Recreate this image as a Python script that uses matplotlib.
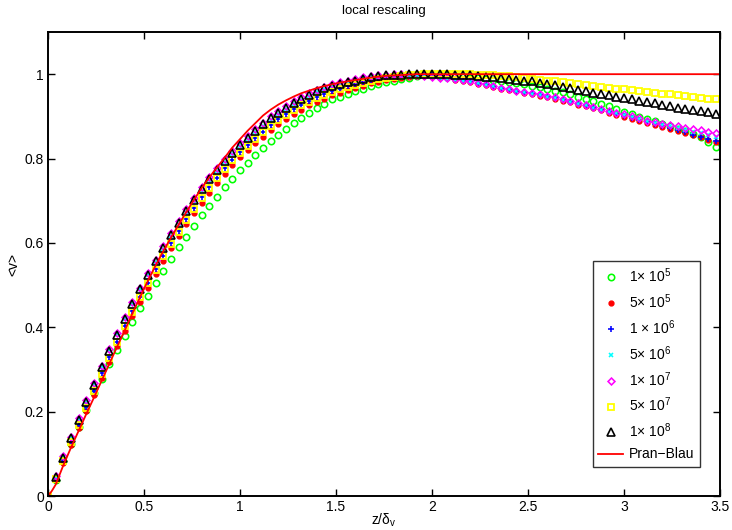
import matplotlib
matplotlib.use("Agg")
import matplotlib.pyplot as plt
import numpy as np

plt.rcParams['font.family'] = ['Liberation Sans', 'DejaVu Sans']
plt.rcParams['mathtext.fontset'] = 'custom'
plt.rcParams['mathtext.rm'] = 'Liberation Sans'
plt.rcParams['mathtext.it'] = 'Liberation Sans:italic'
plt.rcParams['mathtext.bf'] = 'Liberation Sans:bold'

# sample positions z/delta_v
z = [0.00, 0.04, 0.08, 0.12, 0.16, 0.20, 0.24, 0.28, 0.32, 0.36, 0.40, 0.44, 0.48, 0.52, 0.56,
     0.60, 0.64, 0.68, 0.72, 0.76, 0.80, 0.84, 0.88, 0.92, 0.96, 1.00, 1.04, 1.08, 1.12, 1.16,
     1.20, 1.24, 1.28, 1.32, 1.36, 1.40, 1.44, 1.48, 1.52, 1.56, 1.60, 1.64, 1.68, 1.72, 1.76,
     1.80, 1.84, 1.88, 1.92, 1.96, 2.00, 2.04, 2.08, 2.12, 2.16, 2.20, 2.24, 2.28, 2.32, 2.36,
     2.40, 2.44, 2.48, 2.52, 2.56, 2.60, 2.64, 2.68, 2.72, 2.76, 2.80, 2.84, 2.88, 2.92, 2.96,
     3.00, 3.04, 3.08, 3.12, 3.16, 3.20, 3.24, 3.28, 3.32, 3.36, 3.40, 3.44, 3.48]

v_1e5 = [0.000, 0.038, 0.082, 0.123, 0.163, 0.204, 0.243, 0.278, 0.312, 0.346, 0.380, 0.413, 0.445, 0.475, 0.506,
         0.534, 0.562, 0.590, 0.615, 0.641, 0.665, 0.688, 0.710, 0.732, 0.752, 0.772, 0.790, 0.808, 0.825, 0.841,
         0.856, 0.870, 0.884, 0.897, 0.908, 0.919, 0.930, 0.940, 0.947, 0.954, 0.960, 0.966, 0.971, 0.976, 0.981,
         0.985, 0.989, 0.992, 0.995, 0.997, 0.998, 0.998, 0.997, 0.996, 0.994, 0.992, 0.990, 0.988, 0.986, 0.984,
         0.982, 0.979, 0.976, 0.973, 0.969, 0.965, 0.961, 0.957, 0.952, 0.947, 0.941, 0.936, 0.930, 0.924, 0.918,
         0.911, 0.905, 0.899, 0.894, 0.888, 0.883, 0.877, 0.871, 0.865, 0.858, 0.850, 0.840, 0.828]

v_5e5 = [0.000, 0.037, 0.079, 0.121, 0.161, 0.201, 0.240, 0.280, 0.318, 0.355, 0.392, 0.427, 0.461, 0.494, 0.526,
         0.557, 0.587, 0.616, 0.644, 0.670, 0.695, 0.718, 0.741, 0.763, 0.784, 0.803, 0.820, 0.837, 0.852, 0.867,
         0.881, 0.894, 0.905, 0.916, 0.926, 0.935, 0.942, 0.950, 0.956, 0.962, 0.968, 0.973, 0.978, 0.982, 0.986,
         0.989, 0.992, 0.994, 0.995, 0.996, 0.996, 0.994, 0.991, 0.987, 0.984, 0.981, 0.977, 0.974, 0.970, 0.966,
         0.963, 0.959, 0.956, 0.953, 0.949, 0.945, 0.941, 0.937, 0.933, 0.928, 0.924, 0.919, 0.914, 0.909, 0.904,
         0.899, 0.894, 0.889, 0.884, 0.879, 0.875, 0.870, 0.865, 0.860, 0.855, 0.850, 0.845, 0.840]

v_1e6 = [0.000, 0.041, 0.084, 0.128, 0.169, 0.210, 0.250, 0.291, 0.329, 0.366, 0.403, 0.438, 0.472, 0.505, 0.537,
         0.569, 0.599, 0.628, 0.656, 0.683, 0.709, 0.732, 0.755, 0.777, 0.797, 0.815, 0.832, 0.849, 0.864, 0.879,
         0.893, 0.905, 0.917, 0.928, 0.937, 0.945, 0.953, 0.960, 0.966, 0.972, 0.977, 0.982, 0.986, 0.990, 0.993,
         0.996, 0.998, 0.999, 0.999, 0.998, 0.997, 0.994, 0.991, 0.989, 0.986, 0.983, 0.979, 0.976, 0.972, 0.968,
         0.965, 0.961, 0.958, 0.955, 0.951, 0.947, 0.943, 0.939, 0.935, 0.930, 0.926, 0.921, 0.916, 0.911, 0.906,
         0.901, 0.896, 0.891, 0.886, 0.881, 0.877, 0.872, 0.867, 0.862, 0.857, 0.852, 0.847, 0.842]

v_5e6 = [0.000, 0.046, 0.092, 0.138, 0.182, 0.224, 0.265, 0.306, 0.345, 0.383, 0.420, 0.456, 0.490, 0.523, 0.555,
         0.586, 0.616, 0.645, 0.673, 0.699, 0.724, 0.748, 0.770, 0.791, 0.811, 0.829, 0.846, 0.862, 0.878, 0.892,
         0.906, 0.918, 0.929, 0.939, 0.948, 0.957, 0.964, 0.971, 0.976, 0.981, 0.986, 0.990, 0.993, 0.996, 0.998,
         0.999, 0.999, 0.998, 0.997, 0.995, 0.993, 0.991, 0.989, 0.987, 0.984, 0.981, 0.978, 0.974, 0.971, 0.967,
         0.964, 0.960, 0.957, 0.954, 0.950, 0.946, 0.943, 0.939, 0.935, 0.930, 0.926, 0.921, 0.916, 0.911, 0.907,
         0.903, 0.898, 0.893, 0.888, 0.884, 0.880, 0.876, 0.872, 0.868, 0.864, 0.860, 0.856, 0.851]

v_1e7 = [0.000, 0.048, 0.094, 0.140, 0.184, 0.227, 0.268, 0.309, 0.348, 0.386, 0.424, 0.460, 0.494, 0.528, 0.560,
         0.592, 0.623, 0.652, 0.680, 0.706, 0.732, 0.756, 0.778, 0.799, 0.818, 0.836, 0.853, 0.870, 0.885, 0.900,
         0.913, 0.925, 0.936, 0.946, 0.955, 0.963, 0.970, 0.976, 0.981, 0.985, 0.989, 0.993, 0.996, 0.998, 0.999,
         1.000, 1.000, 0.999, 0.998, 0.996, 0.994, 0.992, 0.990, 0.988, 0.986, 0.983, 0.979, 0.976, 0.972, 0.968,
         0.965, 0.961, 0.958, 0.955, 0.952, 0.948, 0.945, 0.941, 0.937, 0.932, 0.928, 0.923, 0.918, 0.913, 0.909,
         0.905, 0.900, 0.895, 0.890, 0.886, 0.882, 0.879, 0.876, 0.873, 0.870, 0.867, 0.864, 0.860]

v_5e7 = [0.000, 0.040, 0.083, 0.127, 0.168, 0.209, 0.249, 0.290, 0.328, 0.365, 0.402, 0.437, 0.471, 0.504, 0.536,
         0.568, 0.598, 0.627, 0.655, 0.681, 0.707, 0.730, 0.753, 0.775, 0.796, 0.814, 0.830, 0.847, 0.862, 0.877,
         0.891, 0.904, 0.915, 0.926, 0.935, 0.943, 0.950, 0.958, 0.964, 0.969, 0.974, 0.979, 0.984, 0.988, 0.991,
         0.994, 0.996, 0.998, 0.999, 1.000, 1.000, 1.000, 1.000, 1.000, 1.000, 1.000, 0.999, 0.998, 0.997, 0.996,
         0.995, 0.993, 0.991, 0.989, 0.987, 0.985, 0.983, 0.981, 0.979, 0.977, 0.975, 0.972, 0.970, 0.968, 0.966,
         0.964, 0.962, 0.960, 0.958, 0.956, 0.954, 0.952, 0.950, 0.948, 0.946, 0.944, 0.942, 0.940]

v_1e8 = [0.000, 0.045, 0.091, 0.137, 0.180, 0.223, 0.264, 0.305, 0.344, 0.382, 0.420, 0.456, 0.490, 0.524, 0.556,
         0.588, 0.619, 0.648, 0.676, 0.702, 0.728, 0.752, 0.774, 0.795, 0.814, 0.832, 0.849, 0.866, 0.881, 0.896,
         0.909, 0.921, 0.932, 0.942, 0.951, 0.959, 0.967, 0.972, 0.977, 0.981, 0.985, 0.989, 0.993, 0.995, 0.997,
         0.998, 0.999, 1.000, 1.000, 1.000, 1.000, 1.000, 1.000, 0.999, 0.998, 0.997, 0.996, 0.994, 0.993, 0.991,
         0.989, 0.987, 0.985, 0.983, 0.980, 0.977, 0.974, 0.970, 0.967, 0.963, 0.959, 0.956, 0.952, 0.950, 0.947,
         0.943, 0.940, 0.937, 0.934, 0.931, 0.927, 0.924, 0.921, 0.918, 0.915, 0.913, 0.910, 0.906]

# Prandtl-Blasius reference profile
z_pb = [0.00, 0.02, 0.04, 0.08, 0.12, 0.16, 0.20, 0.24, 0.28, 0.32, 0.36, 0.40, 0.44, 0.48, 0.52, 0.56,
        0.60, 0.64, 0.68, 0.72, 0.76, 0.80, 0.84, 0.88, 0.92, 0.96, 1.00, 1.04, 1.08, 1.12, 1.16,
        1.20, 1.24, 1.28, 1.32, 1.36, 1.40, 1.44, 1.48, 1.52, 1.56, 1.60, 1.64, 1.68, 1.72, 1.76,
        1.80, 1.84, 1.88, 1.92, 2.00, 3.50]
v_pb = [0.000, 0.012, 0.027, 0.073, 0.115, 0.155, 0.195, 0.234, 0.274, 0.314, 0.354, 0.393, 0.433, 0.472, 0.510, 0.546,
        0.580, 0.612, 0.643, 0.673, 0.702, 0.730, 0.755, 0.779, 0.802, 0.826, 0.846, 0.866, 0.884, 0.902, 0.916,
        0.928, 0.938, 0.947, 0.955, 0.961, 0.967, 0.972, 0.976, 0.980, 0.983, 0.986, 0.989, 0.992, 0.994, 0.996,
        0.997, 0.998, 0.999, 1.000, 1.000, 1.000]

labels = ['1\u00d7 10$^5$', '5\u00d7 10$^5$', '1 \u00d7 10$^6$', '5\u00d7 10$^6$',
          '1\u00d7 10$^7$', '5\u00d7 10$^7$', '1\u00d7 10$^8$', 'Pran\u2212Blau']
x_ticks = [0, 0.5, 1, 1.5, 2, 2.5, 3, 3.5]
x_ticklabels = ['0', '0.5', '1', '1.5', '2', '2.5', '3', '3.5']
y_ticks = [0, 0.2, 0.4, 0.6, 0.8, 1.0]
y_ticklabels = ['0', '0.2', '0.4', '0.6', '0.8', '1']

fig = plt.figure(figsize=(7.32, 5.30), dpi=100)
ax = fig.add_axes([48/732, 34/530, 672/732, 464/530])

mew = 1.15
ax.plot(z, v_1e5, linestyle='none', marker='o', ms=4.6, mfc='none', mec=(0, 1, 0), mew=mew, label=labels[0])
ax.plot(z, v_5e5, linestyle='none', marker='.', ms=7.0, mfc=(1, 0, 0), mec=(1, 0, 0), label=labels[1])
ax.plot(z, v_1e6, linestyle='none', marker='+', ms=4.2, mec=(0, 0, 1), mew=mew, label=labels[2])
ax.plot(z, v_5e6, linestyle='none', marker='x', ms=3.2, mec=(0, 1, 1), mew=mew, label=labels[3])
ax.plot(z, v_1e7, linestyle='none', marker='D', ms=3.5, mfc='none', mec=(1, 0, 1), mew=mew, label=labels[4])
ax.plot(z, v_5e7, linestyle='none', marker='s', ms=4.4, mfc='none', mec=(1, 1, 0), mew=1.3, label=labels[5])
ax.plot(z, v_1e8, linestyle='none', marker='^', ms=5.4, mfc='none', mec=(0, 0, 0), mew=1.2, label=labels[6])
ax.plot(z_pb, v_pb, color=(1, 0, 0), lw=1.3, label=labels[7])

ax.set_xlim(0, 3.5)
ax.set_ylim(0, 1.1)
ax.set_xticks(x_ticks)
ax.set_xticklabels(x_ticklabels)
ax.set_yticks(y_ticks)
ax.set_yticklabels(y_ticklabels)
ax.tick_params(direction='in', top=True, right=True, length=5, width=1.0, labelsize=10, pad=3)
for s in ax.spines.values():
    s.set_linewidth(1.4)

ax.set_title('local rescaling', fontsize=9.5, pad=13)
ax.set_xlabel('z/\u03b4$_\\mathrm{v}$', fontsize=10, labelpad=-2)
ax.set_ylabel('<v>', fontsize=10, labelpad=3)

leg = ax.legend(loc='lower right', bbox_to_anchor=(0.97, 0.0625), borderaxespad=0,
                numpoints=1, fontsize=10, frameon=True, fancybox=False, edgecolor='black',
                labelspacing=0.52, handlelength=1.8, handletextpad=0.4, borderpad=0.4)
leg.get_frame().set_linewidth(1.0)

fig.savefig('out.png', dpi=100)
